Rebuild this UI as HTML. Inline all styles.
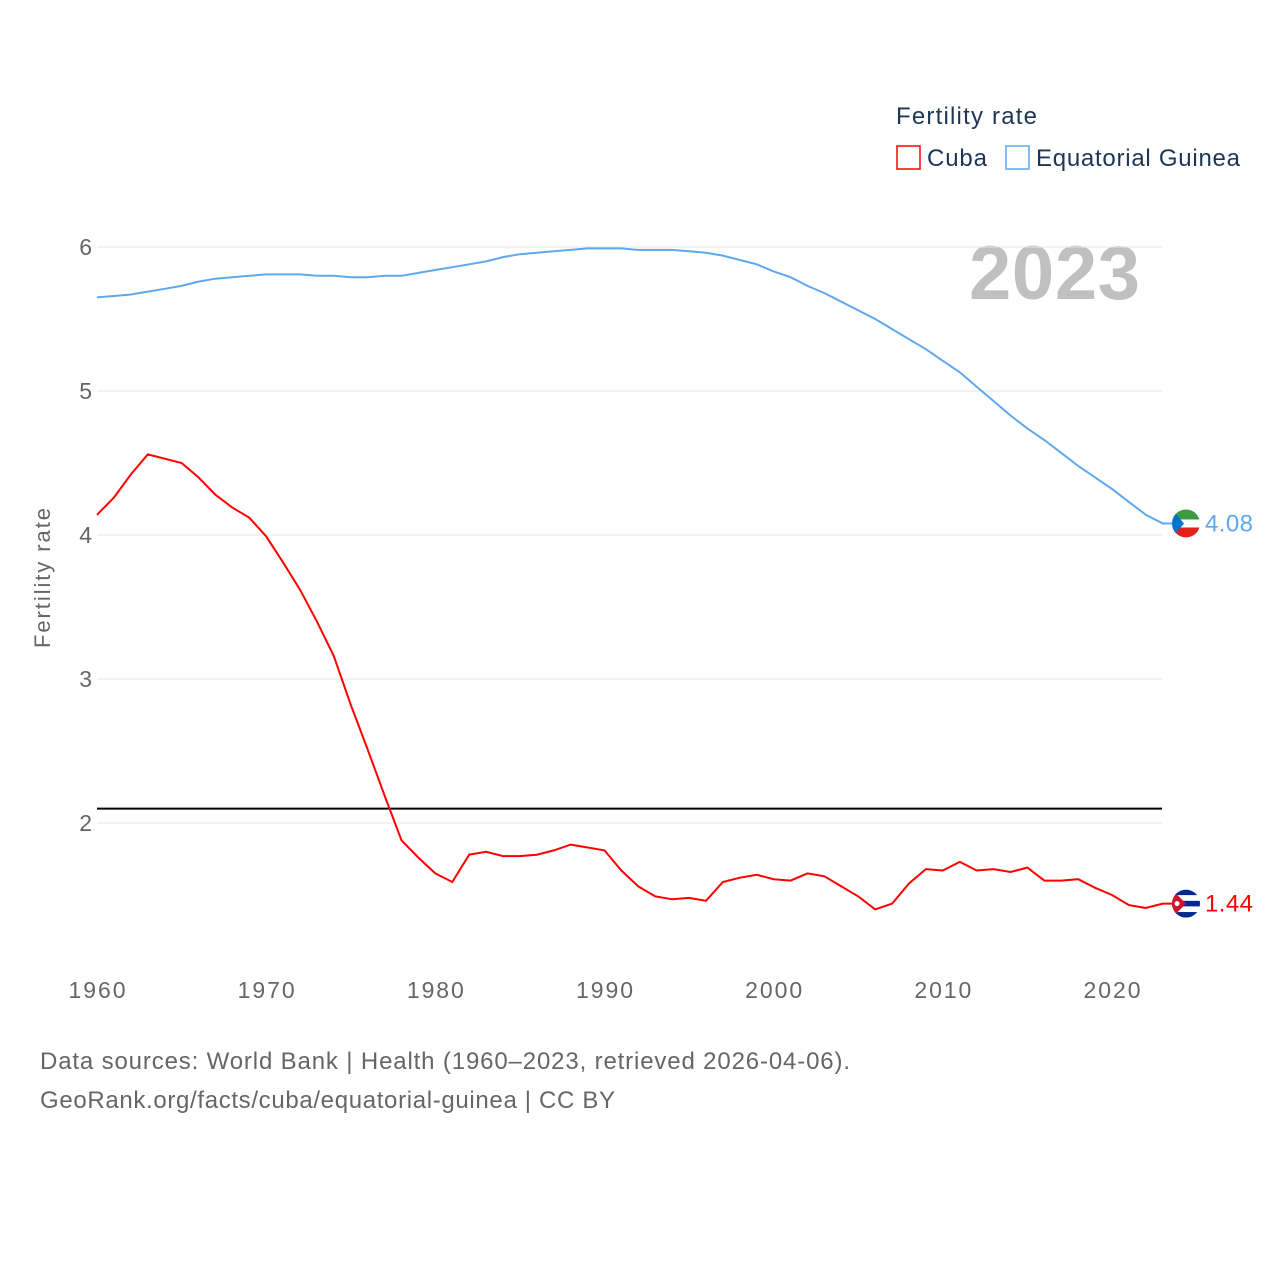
<!DOCTYPE html>
<html><head><meta charset="utf-8"><style>
body{margin:0;background:#fff;font-family:"Liberation Sans",sans-serif;}
svg text{font-family:"Liberation Sans",sans-serif;}
</style></head><body>
<svg id="c" width="1280" height="1280">
<defs>
<clipPath id="cf1"><circle cx="1186" cy="0" r="14"/></clipPath>
</defs>
<text x="896" y="124" font-size="24" fill="#1d3557" textLength="141">Fertility rate</text>
<rect x="897" y="146" width="23" height="23" fill="none" stroke="#f00" stroke-width="1.5"/>
<text x="927" y="166" font-size="24" fill="#1d3557" textLength="60">Cuba</text>
<rect x="1006" y="146" width="23" height="23" fill="none" stroke="#5fa8ee" stroke-width="1.5"/>
<text x="1036" y="166" font-size="24" fill="#1d3557" textLength="204">Equatorial Guinea</text>
<text x="969" y="299" font-size="76" font-weight="bold" fill="#c0c0c0" textLength="171">2023</text>
<text transform="translate(50,578) rotate(-90)" font-size="22" fill="#666" text-anchor="middle" textLength="140">Fertility rate</text>
<g id="grid"></g><g id="lines"></g>
<text x="40" y="1069" font-size="24" fill="#666" textLength="810">Data sources: World Bank | Health (1960–2023, retrieved 2026-04-06).</text>
<text x="40" y="1108" font-size="24" fill="#666" textLength="575">GeoRank.org/facts/cuba/equatorial-guinea | CC BY</text>
</svg>
<script>
const years=[];for(let y=1960;y<=2023;y++)years.push(y);
const cuba=[4.14,4.26,4.42,4.56,4.53,4.50,4.40,4.28,4.19,4.12,3.99,3.81,3.62,3.40,3.16,2.82,2.51,2.19,1.88,1.76,1.65,1.59,1.78,1.80,1.77,1.77,1.78,1.81,1.85,1.83,1.81,1.67,1.56,1.49,1.47,1.48,1.46,1.59,1.62,1.64,1.61,1.60,1.65,1.63,1.56,1.49,1.40,1.44,1.58,1.68,1.67,1.73,1.67,1.68,1.66,1.69,1.60,1.60,1.61,1.55,1.50,1.43,1.41,1.44];
const eqg=[5.65,5.66,5.67,5.69,5.71,5.73,5.76,5.78,5.79,5.80,5.81,5.81,5.81,5.80,5.80,5.79,5.79,5.80,5.80,5.82,5.84,5.86,5.88,5.90,5.93,5.95,5.96,5.97,5.98,5.99,5.99,5.99,5.98,5.98,5.98,5.97,5.96,5.94,5.91,5.88,5.83,5.79,5.73,5.68,5.62,5.56,5.50,5.43,5.36,5.29,5.21,5.13,5.03,4.93,4.83,4.74,4.66,4.57,4.48,4.40,4.32,4.23,4.14,4.08];
const yTicks=[2,3,4,5,6];
const xTicks=[1960,1970,1980,1990,2000,2010,2020];
const replacement=2.1;
const X=y=>97+(y-1960)*(1015/60);
const Y=v=>1111-v*144;
const NS='http://www.w3.org/2000/svg';
function mk(t,a,p){const e=document.createElementNS(NS,t);for(const k in a)e.setAttribute(k,a[k]);p.appendChild(e);return e;}
const g=document.getElementById('grid'),L=document.getElementById('lines');
yTicks.forEach(v=>{
 const l=mk('line',{x1:97,x2:1162,y1:Y(v),y2:Y(v),stroke:'#e6e6e6'},g);
 
 
 const t=mk('text',{x:92,y:Y(v)+8,'font-size':23,fill:'#666','text-anchor':'end'},g);t.textContent=v;
 
 
});
xTicks.forEach(v=>{
 const t=mk('text',{x:X(v),y:998,'font-size':23,fill:'#666','text-anchor':'middle',textLength:57},g);t.textContent=v;
 
 
});
const rl=mk('line',{x1:97,x2:1162,y1:Y(replacement),y2:Y(replacement),stroke:'#000','stroke-width':2},L);


function flag(cy,kind,name){
 const cid='clip-'+name;
 const cp=mk('clipPath',{id:cid},L);mk('circle',{cx:1186,cy:cy,r:14},cp);
 const fg=mk('g',{'clip-path':'url(#'+cid+')'},L);
 
 
 const x0=1172,y0=cy-14;
 if(kind==='eq'){
  mk('rect',{x:x0,y:y0,width:28,height:10,fill:'#3e9a3e'},fg);
  mk('rect',{x:x0,y:y0+10,width:28,height:8,fill:'#fff'},fg);
  mk('rect',{x:x0,y:y0+18,width:28,height:10,fill:'#e32118'},fg);
  mk('polygon',{points:`${x0},${y0} ${x0+12},${cy} ${x0},${y0+28}`,fill:'#0073ce'},fg);
 }else{
  for(let i=0;i<5;i++)mk('rect',{x:x0,y:y0+i*5.6,width:28,height:5.6,fill:i%2?'#fff':'#002a8f'},fg);
  mk('polygon',{points:`${x0},${y0} ${x0+14},${cy} ${x0},${y0+28}`,fill:'#cf142b'},fg);
  mk('circle',{cx:x0+5,cy:cy,r:2.5,fill:'#fff'},fg);
 }
}
function series(vals,col,name,kind){
 const p=mk('path',{d:vals.map((v,i)=>(i?'L':'M')+X(years[i]).toFixed(1)+','+Y(v).toFixed(1)).join(''),fill:'none',stroke:col,'stroke-width':2},L);
 
 
 const last=vals[vals.length-1];
 mk('line',{x1:1162,x2:1174,y1:Y(last),y2:Y(last),stroke:col,'stroke-width':2},L);
 flag(Y(last),kind,name);
 const t=mk('text',{x:1205,y:Y(last)+8,'font-size':24,fill:col,textLength:48},L);t.textContent=last.toFixed(2);
 
 
}
series(eqg,'#5fa8ee','eq-guinea','eq');
series(cuba,'#f00','cuba','cu');
</script>
</body></html>
